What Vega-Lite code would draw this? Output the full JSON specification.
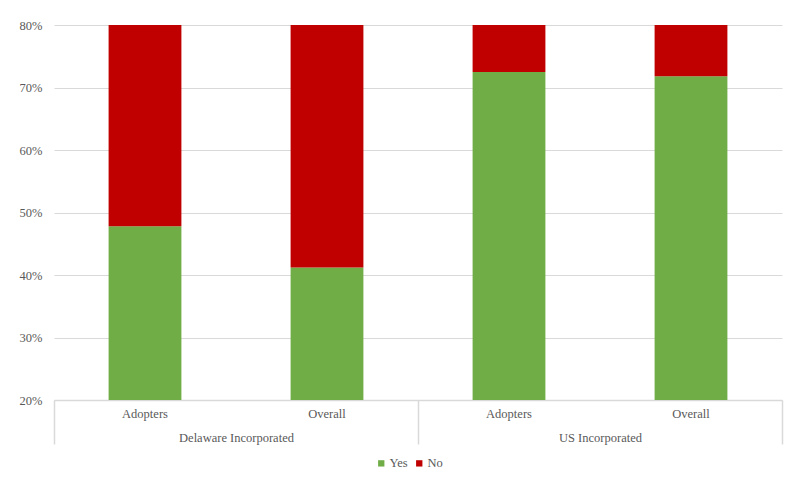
{
  "$schema": "https://vega.github.io/schema/vega-lite/v6.json",
  "width": 728,
  "height": 375,
  "autosize": {"type": "none"},
  "padding": {"left": 54, "top": 25, "right": 5, "bottom": 80},
  "background": "white",
  "config": {
    "font": "Liberation Serif",
    "view": {"stroke": null},
    "axis": {"labelFontSize": 12.5, "labelColor": "#595959", "labelFont": "Liberation Serif"},
    "legend": {"labelFont": "Liberation Serif"}
  },
  "data": {
    "values": [
      {"group": "Delaware Incorporated", "key": "Delaware Incorporated|Adopters", "answer": "Yes", "value": 0.478},
      {"group": "Delaware Incorporated", "key": "Delaware Incorporated|Adopters", "answer": "No", "value": 0.522},
      {"group": "Delaware Incorporated", "key": "Delaware Incorporated|Overall", "answer": "Yes", "value": 0.412},
      {"group": "Delaware Incorporated", "key": "Delaware Incorporated|Overall", "answer": "No", "value": 0.588},
      {"group": "US Incorporated", "key": "US Incorporated|Adopters", "answer": "Yes", "value": 0.725},
      {"group": "US Incorporated", "key": "US Incorporated|Adopters", "answer": "No", "value": 0.275},
      {"group": "US Incorporated", "key": "US Incorporated|Overall", "answer": "Yes", "value": 0.718},
      {"group": "US Incorporated", "key": "US Incorporated|Overall", "answer": "No", "value": 0.282}
    ]
  },
  "layer": [
    {
      "mark": {"type": "bar", "clip": true},
      "encoding": {
        "x": {
          "field": "key", "type": "nominal",
          "sort": ["Delaware Incorporated|Adopters", "Delaware Incorporated|Overall", "US Incorporated|Adopters", "US Incorporated|Overall"],
          "scale": {"paddingInner": 0.6, "paddingOuter": 0.3},
          "axis": {"title": null, "labelExpr": "split(datum.label, '|')[1]", "domain": false, "ticks": false, "labelAngle": 0, "labelPadding": 7, "grid": false}
        },
        "y": {
          "field": "value", "type": "quantitative", "stack": "zero",
          "scale": {"domain": [0.2, 0.8], "nice": false},
          "axis": {"format": ".0%", "title": null, "values": [0.2, 0.3, 0.4, 0.5, 0.6, 0.7, 0.8], "domain": false, "ticks": false, "gridColor": "#d9d9d9", "labelPadding": 12}
        },
        "color": {
          "field": "answer", "type": "nominal", "sort": ["Yes", "No"],
          "scale": {"domain": ["Yes", "No"], "range": ["#70ad47", "#c00000"]},
          "legend": {"orient": "none", "legendX": 321, "legendY": 432, "direction": "horizontal", "title": null, "symbolType": "square", "symbolSize": 40, "symbolStrokeWidth": 0, "labelFontSize": 12.5, "labelColor": "#595959", "columnPadding": 5, "labelOffset": 2}
        }
      }
    },
    {
      "mark": {"type": "bar", "opacity": 0},
      "encoding": {
        "x": {
          "field": "group", "type": "nominal",
          "scale": {"type": "band", "paddingInner": 0, "paddingOuter": 0},
          "axis": {"orient": "bottom", "title": null, "tickBand": "extent", "tickSize": 44, "tickColor": "#d9d9d9", "tickWidth": 1.5, "domainColor": "#d9d9d9", "domainWidth": 1.5, "labelPadding": -13, "labelAngle": 0, "grid": false}
        }
      }
    }
  ],
  "resolve": {"scale": {"x": "independent"}}
}
